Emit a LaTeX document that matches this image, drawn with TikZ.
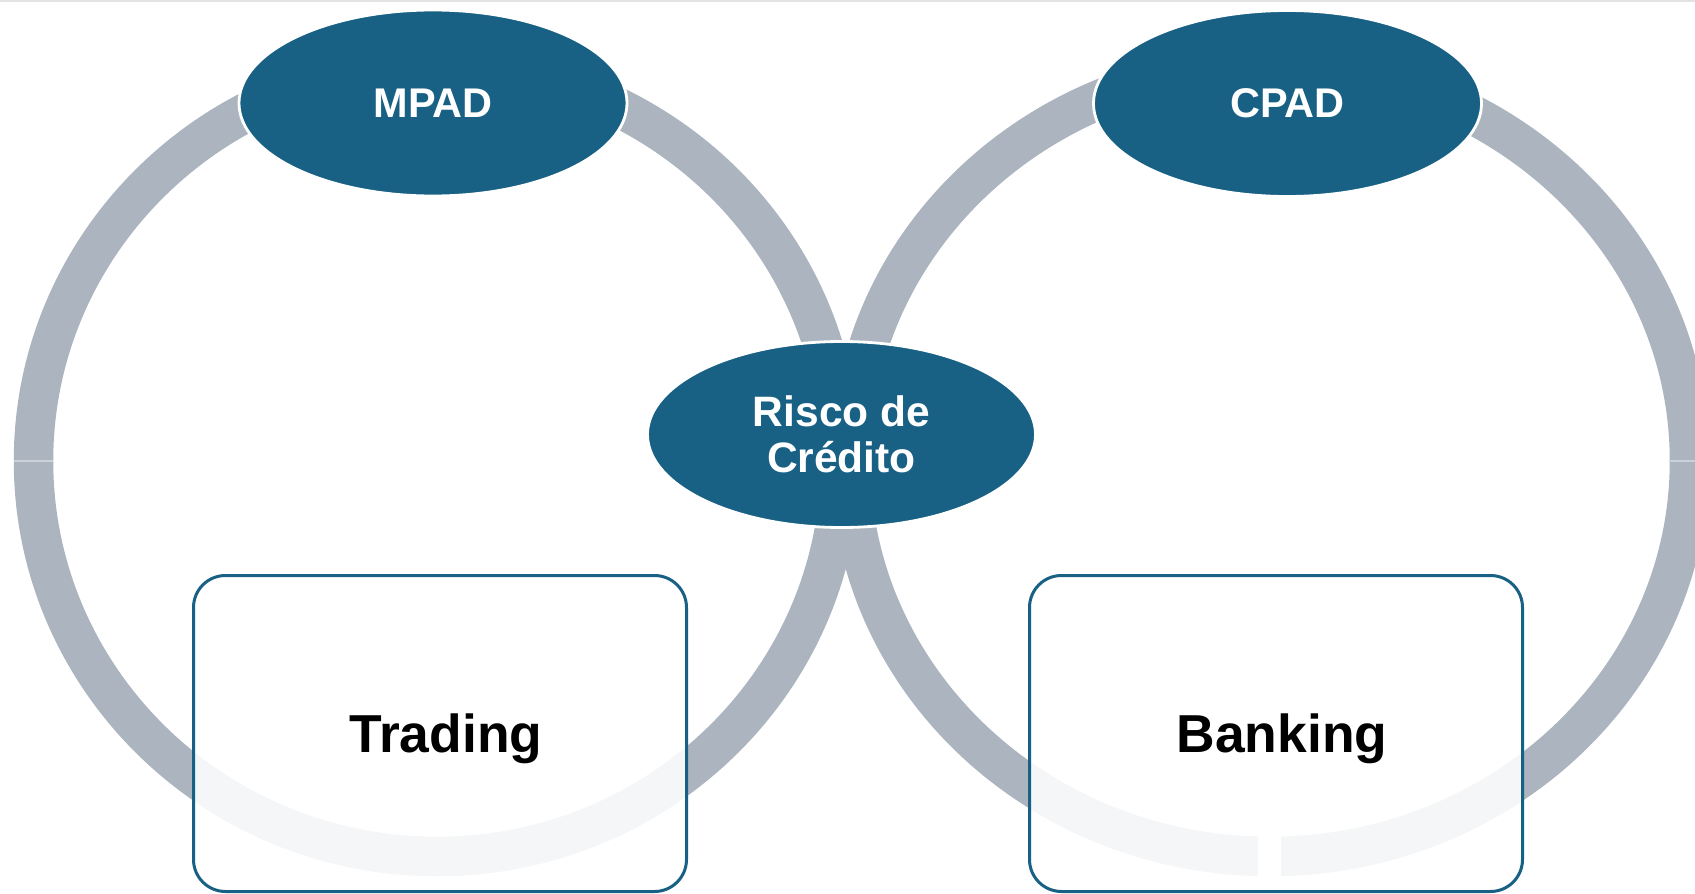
\documentclass[tikz,border=0pt]{standalone}
\usepackage{fontspec}
\setsansfont{Liberation Sans}
\usetikzlibrary{shapes.geometric}
\definecolor{hubblue}{HTML}{186184}
\definecolor{ringgray}{HTML}{ACB5BF}
\definecolor{seamgray}{HTML}{CBD1D8}

\begin{document}
\begin{tikzpicture}[x=0.1mm,y=-0.1mm,line cap=butt]
  \tikzset{
    ring/.style={draw=ringgray, line width=3.95mm},
    seam/.style={draw=seamgray, line width=0.12mm},
    hub/.style={ellipse, fill=hubblue, draw=white, line width=0.28mm,
      minimum width=38.8mm, minimum height=18.6mm, inner sep=0pt,
      text=white, align=center, font=\sffamily\bfseries\fontsize{11.8}{13.1}\selectfont},
    desk/.style={rectangle, rounded corners=3.2mm, draw=hubblue, line width=0.3mm,
      fill=white, fill opacity=0.88, text opacity=1, text depth=0pt,
      minimum width=49.3mm, minimum height=31.6mm,
      execute at begin node=\kern3.4pt,
      font=\sffamily\bfseries\fontsize{15.2}{17}\selectfont}
  }
  \useasboundingbox (0,0) rectangle (1695,894);

  % thin rule along the top edge
  \draw[gray!22, line width=0.15mm] (0,1) -- (1695,1);

  % the two rings
  \draw[ring] (437,461) ellipse [x radius=40.35mm, y radius=39.55mm];
  \draw[ring] (1270,461) ellipse [x radius=41.95mm, y radius=39.55mm];
  \draw[seam] (14,461) -- (53,461);
  \draw[seam] (1669,461) -- (1695,461);
  \fill[white] (1258,828) rectangle (1281,886);

  % desks
  \node[desk] (trading) at (440,733.5) {Trading};
  \node[desk] (banking) at (1276,733.5) {Banking};

  % hubs
  \node[hub] (mpad) at (433,103) {MPAD};
  \node[hub] (cpad) at (1287.5,103.5) {CPAD};
  \node[hub, font=\sffamily\bfseries\fontsize{12.1}{13.1}\selectfont] (risco) at (841.5,434.5) {Risco de\\Crédito};
\end{tikzpicture}
\end{document}
